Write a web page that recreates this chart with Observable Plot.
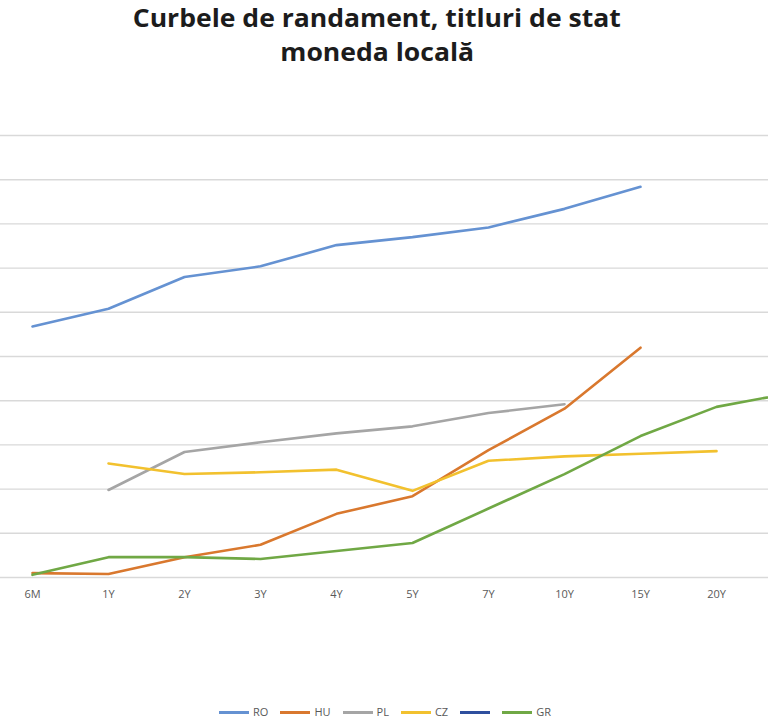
<!DOCTYPE html>
<html>
<head>
<meta charset="utf-8">
<script src="https://cdn.jsdelivr.net/npm/d3@7"></script>
<script src="https://cdn.jsdelivr.net/npm/@observablehq/plot@0.6"></script>
<style>
  html, body { margin: 0; padding: 0; background: #fff; overflow: hidden; }
  body { width: 768px; height: 726px; font-family: "Open Sans", sans-serif; }
  #title { position: relative; height: 90px; width: 754px; text-align: center; color: #1c1c1c;
           font-weight: 700; font-size: 25px; line-height: 34px; padding-top: 0px; box-sizing: border-box; }
  #title span { display: inline-block; white-space: nowrap; transform-origin: 50% 50%; }
  #chart svg { display: block; }
  #legend { display: flex; justify-content: center; align-items: center; width: 768px; padding-left: 14px;
            box-sizing: border-box; margin-top: 75px; font-size: 11px; color: #595959; line-height: 14px; }
  .item { display: flex; align-items: center; margin-right: 12px; }
  .sw { width: 30px; height: 3px; margin-right: 4px; }
</style>
</head>
<body>
<div id="title"><span id="t1">Curbele de randament, titluri de stat</span><br><span id="t2">moneda locală</span></div>
<div id="chart"></div>
<div id="legend"></div>
<script>
const categories = ["6M", "1Y", "2Y", "3Y", "4Y", "5Y", "7Y", "10Y", "15Y", "20Y", "30Y"];
const tickLabels = ["6M", "1Y", "2Y", "3Y", "4Y", "5Y", "7Y", "10Y", "15Y", "20Y"];
const seriesNames = ["RO", "HU", "PL", "CZ", "", "GR"];
const seriesColors = ["#6592d2", "#d9782e", "#a5a5a5", "#f2c12e", "#2f4f9e", "#70a845"];
const RO = [2.84, 3.04, 3.40, 3.52, 3.76, 3.85, 3.96, 4.17, 4.42, null, null];
const HU = [0.05, 0.04, 0.23, 0.37, 0.72, 0.92, 1.44, 1.91, 2.60, null, null];
const PL = [null, 0.99, 1.42, 1.53, 1.63, 1.71, 1.86, 1.96, null, null, null];
const CZ = [null, 1.29, 1.17, 1.19, 1.22, 0.98, 1.32, 1.37, 1.40, 1.43, null];
const BLANK = [null, null, null, null, null, null, null, null, null, null, null];
const GR = [0.03, 0.23, 0.23, 0.21, 0.30, 0.39, 0.78, 1.17, 1.60, 1.93, 2.09];
const gridValues = [0, 0.5, 1, 1.5, 2, 2.5, 3, 3.5, 4, 4.5, 5];

const seriesValues = [RO, HU, PL, CZ, BLANK, GR];
const rows = [];
seriesValues.forEach((vals, si) => {
  vals.forEach((v, i) => {
    if (v != null) rows.push({series: si, cat: categories[i], value: v});
  });
});

const chart = Plot.plot({
  width: 768,
  height: 540,
  marginLeft: 0,
  marginRight: 0,
  marginTop: 45,
  marginBottom: 53,
  style: {fontFamily: "Open Sans, sans-serif", fontSize: "11px", color: "#595959", background: "#fff"},
  x: {type: "point", domain: categories, range: [31, 793], padding: 0, label: null,
      ticks: tickLabels, tickSize: 0, tickPadding: 13},
  y: {domain: [0, 5], axis: null},
  marks: [
    Plot.ruleY(gridValues, {stroke: "#d9d9d9", strokeWidth: 1.4}),
    Plot.line(rows, {
      x: "cat", y: "value", z: "series",
      stroke: d => seriesColors[d.series],
      strokeWidth: 2.6, strokeLinejoin: "round", strokeLinecap: "round",
      clip: true
    })
  ]
});
document.getElementById("chart").appendChild(chart);

// Legend
const legend = document.getElementById("legend");
seriesNames.forEach((name, i) => {
  const item = document.createElement("div");
  item.className = "item";
  const sw = document.createElement("div");
  sw.className = "sw";
  sw.style.background = seriesColors[i];
  if (!name) sw.style.marginRight = "0px";
  item.appendChild(sw);
  if (name) {
    const lab = document.createElement("span");
    lab.textContent = name;
    item.appendChild(lab);
  }
  legend.appendChild(item);
});

// Title: condense horizontally to match reference width
const t1 = document.getElementById("t1");
const t2 = document.getElementById("t2");
const w1 = t1.getBoundingClientRect().width;
const s = 488 / w1;
t1.style.transform = `scaleX(${s})`;
t2.style.transform = `scaleX(${s})`;
</script>
</body>
</html>
